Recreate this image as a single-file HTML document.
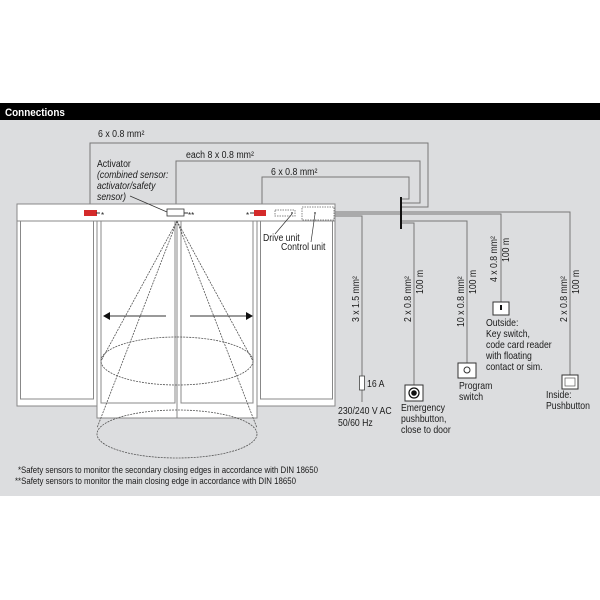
<!DOCTYPE html>
<html><head><meta charset="utf-8"><style>
html,body{margin:0;padding:0;background:#fff;width:600px;height:600px;overflow:hidden}
svg{display:block}
text{font-family:"Liberation Sans",sans-serif;font-size:10px;fill:#1a1a1a}
</style></head><body>
<svg width="600" height="600" viewBox="0 0 600 600" xmlns="http://www.w3.org/2000/svg">
<rect x="0" y="0" width="600" height="600" fill="#fff"/>
<rect x="0" y="103" width="600" height="17" fill="#000"/>
<text transform="translate(5,116) scale(.9,1)" style="font-size:11px;font-weight:bold;fill:#fff">Connections</text>
<rect x="0" y="120" width="600" height="376" fill="#dcdddf"/>

<g fill="none" stroke="#777" stroke-width="1">
<polyline points="90,210 90,143 428,143 428,207 401,207"/>
<polyline points="176,209 176,161 420,161 420,203 401,203"/>
<polyline points="262,210 262,177 409,177 409,199 401,199"/>
<polyline points="334,212 570,212 570,375"/>
<polyline points="334,214 501,214 501,302"/>
<polyline points="401,221 467,221 467,363"/>
<polyline points="401,223 414,223 414,385"/>
<polyline points="334,216 362,216 362,376"/>
<line x1="362" y1="390" x2="362" y2="402"/>
</g>
<line x1="401" y1="197" x2="401" y2="229" stroke="#111" stroke-width="2"/>
<text transform="translate(98,137) scale(.88,1)">6 x 0.8 mm²</text>
<text transform="translate(186,158) scale(.88,1)">each 8 x 0.8 mm²</text>
<text transform="translate(271,175) scale(.88,1)">6 x 0.8 mm²</text>

<g stroke="#888" stroke-width="1" fill="#fff">
<rect x="17" y="221" width="81" height="185"/>
<rect x="20.5" y="221" width="73" height="178"/>
<rect x="257" y="221" width="78" height="185"/>
<rect x="260.5" y="221" width="72" height="178"/>
<rect x="97" y="221" width="160" height="197"/>
<rect x="101" y="221" width="74" height="182"/>
<rect x="181" y="221" width="72" height="182"/>
<rect x="17" y="204" width="318" height="17"/>
</g>
<line x1="177" y1="221" x2="177" y2="418" stroke="#888"/>
<rect x="84" y="210" width="13" height="6" fill="#d42a2a"/>
<line x1="96" y1="213" x2="100" y2="213" stroke="#333"/>
<text x="101" y="218" style="font-size:8px">*</text>
<rect x="167" y="209" width="17" height="7" fill="#fff" stroke="#333" stroke-width="0.8"/>
<line x1="184" y1="213" x2="188" y2="213" stroke="#333"/>
<text x="188" y="218" style="font-size:8px">**</text>
<rect x="254" y="210" width="12" height="6" fill="#d42a2a"/>
<line x1="250" y1="213" x2="254" y2="213" stroke="#333"/>
<text x="246" y="218" style="font-size:8px">*</text>
<rect x="275" y="210" width="20" height="6" fill="none" stroke="#888" stroke-dasharray="1.5,1"/>
<rect x="302" y="207" width="32" height="13" fill="none" stroke="#888" stroke-dasharray="1.5,1"/>
<circle cx="292" cy="213" r="0.9" fill="#333"/><circle cx="315" cy="213" r="0.9" fill="#333"/>
<line x1="130" y1="196" x2="167" y2="212" stroke="#333" stroke-width="0.7"/>
<line x1="292" y1="214" x2="275" y2="234" stroke="#333" stroke-width="0.7"/>
<line x1="315" y1="214" x2="311" y2="242" stroke="#333" stroke-width="0.7"/>
<text transform="translate(97,167) scale(.87,1)">Activator</text>
<text transform="translate(97,178) scale(.87,1)" font-style="italic">(combined sensor:</text>
<text transform="translate(97,189) scale(.87,1)" font-style="italic">activator/safety</text>
<text transform="translate(97,200) scale(.87,1)" font-style="italic">sensor)</text>
<text transform="translate(263,241) scale(.87,1)">Drive unit</text>
<text transform="translate(281,250) scale(.87,1)">Control unit</text>

<g fill="none" stroke="#555" stroke-width="0.8" stroke-dasharray="2,1">
<line x1="177" y1="221" x2="101" y2="361"/><line x1="177" y1="221" x2="253" y2="361"/>
<line x1="177" y1="221" x2="97" y2="428"/><line x1="177" y1="221" x2="257" y2="428"/>
<ellipse cx="177" cy="361" rx="76" ry="24"/>
<ellipse cx="177" cy="434" rx="80" ry="24"/>
</g>
<line x1="166" y1="316" x2="108" y2="316" stroke="#333"/>
<polygon points="103,316 110,312 110,320" fill="#111"/>
<line x1="190" y1="316" x2="248" y2="316" stroke="#333"/>
<polygon points="253,316 246,312 246,320" fill="#111"/>

<rect x="359.5" y="376" width="5" height="14" fill="#fff" stroke="#444" stroke-width="0.8"/>
<text transform="translate(367,387) scale(.87,1)">16 A</text>
<text transform="translate(338,414) scale(.87,1)">230/240 V AC</text>
<text transform="translate(338,426) scale(.87,1)">50/60 Hz</text>
<rect x="405" y="385" width="18" height="16" fill="#fff" stroke="#333"/>
<circle cx="414" cy="393" r="5" fill="#fff" stroke="#111" stroke-width="1.2"/><circle cx="414" cy="393" r="2.8" fill="#111"/>
<text transform="translate(401,411) scale(.87,1)">Emergency</text>
<text transform="translate(401,422) scale(.87,1)">pushbutton,</text>
<text transform="translate(401,433) scale(.87,1)">close to door</text>
<rect x="458" y="363" width="18" height="15" fill="#fff" stroke="#333"/>
<circle cx="467" cy="370" r="3" fill="#fff" stroke="#333"/>
<text transform="translate(459,389) scale(.87,1)">Program</text>
<text transform="translate(459,400) scale(.87,1)">switch</text>
<rect x="493" y="302" width="16" height="13" fill="#fff" stroke="#333"/>
<rect x="500" y="305" width="2" height="5" fill="#111"/>
<text transform="translate(486,326) scale(.87,1)">Outside:</text>
<text transform="translate(486,337) scale(.87,1)">Key switch,</text>
<text transform="translate(486,348) scale(.87,1)">code card reader</text>
<text transform="translate(486,359) scale(.87,1)">with floating</text>
<text transform="translate(486,370) scale(.87,1)">contact or sim.</text>
<rect x="562" y="375" width="16" height="14" fill="#fff" stroke="#333"/>
<rect x="565" y="378" width="10" height="8" fill="none" stroke="#555" stroke-width="0.7"/>
<text transform="translate(546,398) scale(.87,1)">Inside:</text>
<text transform="translate(546,409) scale(.87,1)">Pushbutton</text>

<text transform="translate(359,322) rotate(-90) scale(.87,1)">3 x 1.5 mm²</text>
<text transform="translate(411,322) rotate(-90) scale(.87,1)">2 x 0.8 mm²</text>
<text transform="translate(423,294) rotate(-90) scale(.87,1)">100 m</text>
<text transform="translate(464,327) rotate(-90) scale(.87,1)">10 x 0.8 mm²</text>
<text transform="translate(476,294) rotate(-90) scale(.87,1)">100 m</text>
<text transform="translate(497,282) rotate(-90) scale(.87,1)">4 x 0.8 mm²</text>
<text transform="translate(509,262) rotate(-90) scale(.87,1)">100 m</text>
<text transform="translate(567,322) rotate(-90) scale(.87,1)">2 x 0.8 mm²</text>
<text transform="translate(579,294) rotate(-90) scale(.87,1)">100 m</text>

<text x="18" y="473" style="font-size:9.5px" textLength="300" lengthAdjust="spacingAndGlyphs">*Safety sensors to monitor the secondary closing edges in accordance with DIN 18650</text>
<text x="15" y="484" style="font-size:9.5px" textLength="281" lengthAdjust="spacingAndGlyphs">**Safety sensors to monitor the main closing edge in accordance with DIN 18650</text>
</svg>
</body></html>
